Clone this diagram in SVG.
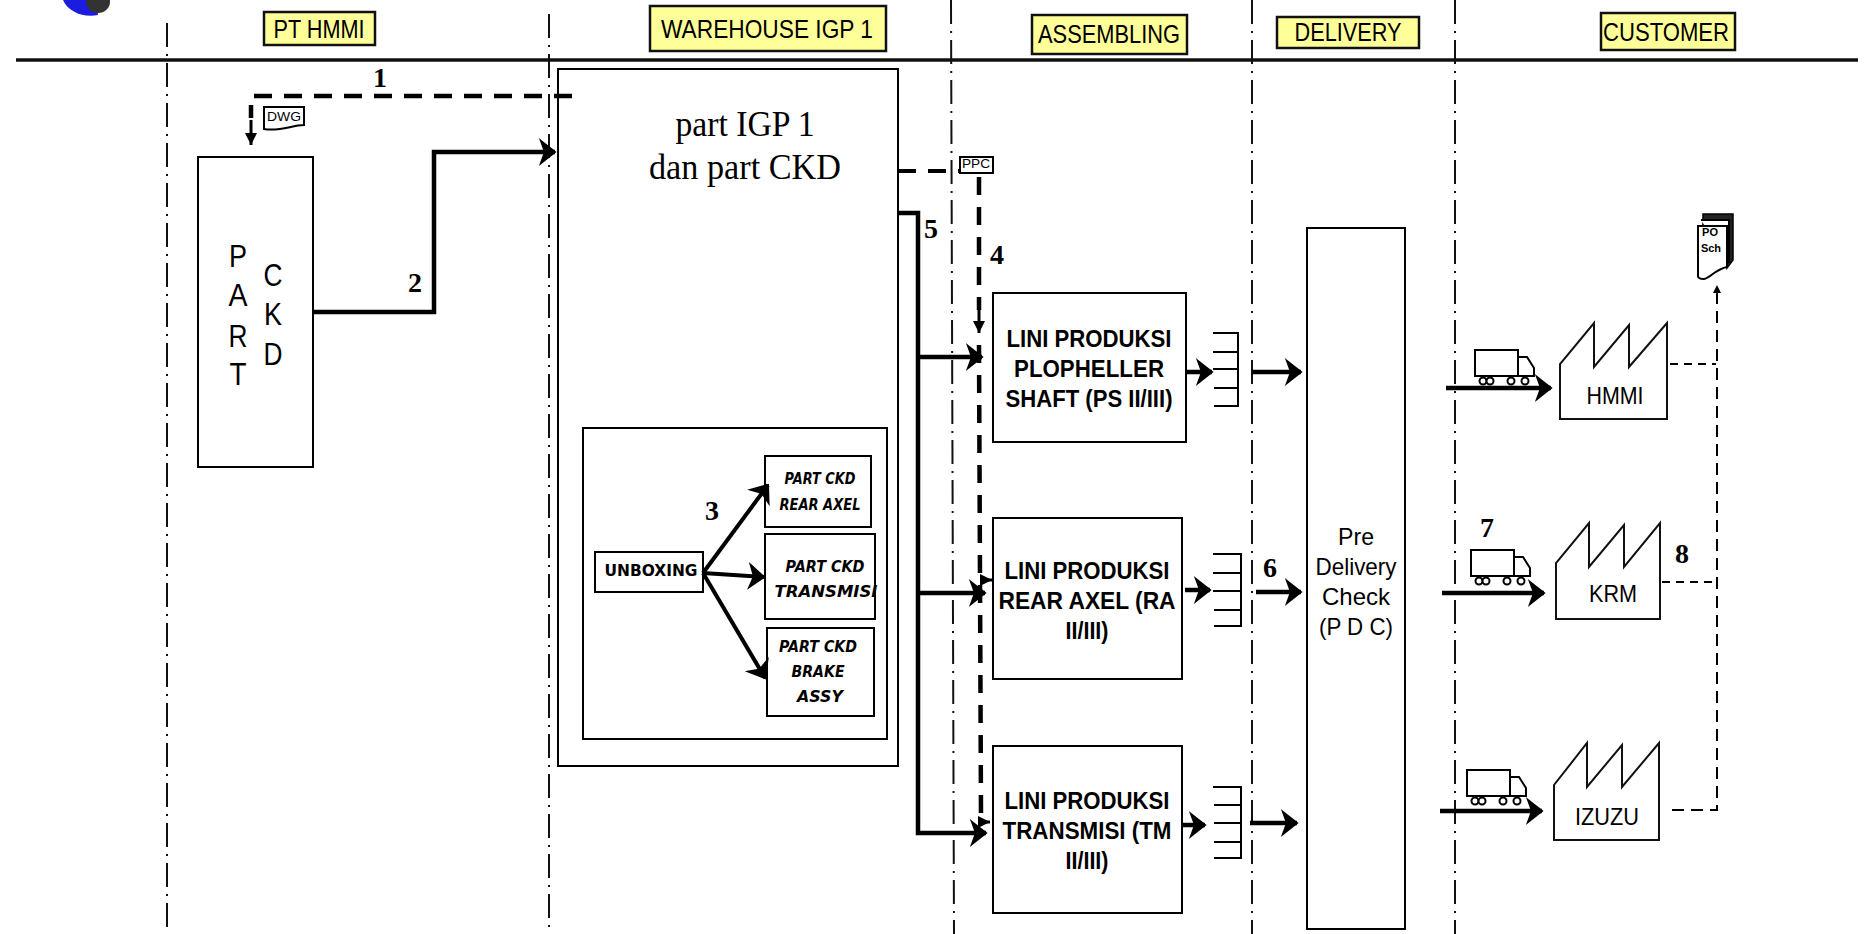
<svg xmlns="http://www.w3.org/2000/svg" width="1868" height="934" viewBox="0 0 1868 934">
<style>
text{font-family:"Liberation Sans",Arial,sans-serif;fill:#000}
.box{fill:#fff;stroke:#000;stroke-width:2}
.hdr{fill:#ffff99;stroke:#111;stroke-width:2.5}
.h{font-size:25px;text-anchor:middle}
.lane{fill:none;stroke:#111;stroke-width:2;stroke-dasharray:24 7 2 7}
.n{font-family:"Liberation Serif",serif;font-weight:bold;font-size:28px;text-anchor:middle}
.l{font-weight:bold;font-size:24px;text-anchor:middle}
.c{font-family:"DejaVu Sans",sans-serif;font-weight:bold;font-style:italic;font-size:15px;text-anchor:middle}
.p{font-size:31px;text-anchor:middle}
.f{font-size:24px;text-anchor:middle}
.s{fill:none;stroke:#000;stroke-width:4.5}
.m{fill:none;stroke:#000;stroke-width:3}
.d{fill:none;stroke:#000;stroke-width:4.5;stroke-dasharray:18 12}
.t{fill:none;stroke:#000;stroke-width:2;stroke-dasharray:8 6}
.fac{fill:#fff;stroke:#111;stroke-width:2}
.comb{fill:none;stroke:#000;stroke-width:2}
</style>
<defs>
<marker id="a" markerUnits="userSpaceOnUse" markerWidth="26" markerHeight="30" refX="20" refY="13" orient="auto" overflow="visible"><path d="M6,2 L20,13 L6,24 L10,13 Z" fill="#000" stroke="#000" stroke-width="2"/></marker>
<marker id="b" markerUnits="userSpaceOnUse" markerWidth="16" markerHeight="16" refX="14" refY="7" orient="auto" overflow="visible"><path d="M2,1 L14,7 L2,13 Z" fill="#000"/></marker>
<marker id="e" markerUnits="userSpaceOnUse" markerWidth="10" markerHeight="10" refX="8" refY="4" orient="auto" overflow="visible"><path d="M0,0 L8,4 L0,8 Z" fill="#000"/></marker>
<g id="truck" fill="#fff" stroke="#000" stroke-width="2">
<rect x="0" y="0" width="43" height="26"/>
<path d="M43,7 H52 L59,18 V26 H43 Z"/>
<circle cx="8" cy="31" r="3.5"/><circle cx="15" cy="31" r="3.5"/><circle cx="36" cy="31" r="3.5"/><circle cx="50" cy="31" r="3.5"/>
</g>
</defs>
<rect width="1868" height="934" fill="#fff"/>

<g id="logo">
<path d="M63,0 C68,12 84,18 98,15 L96,0 Z" fill="#1c1ce0"/>
<ellipse cx="98" cy="2" rx="12" ry="11" fill="#333"/>
</g>

<g id="lanes">
<path class="lane" d="M167,23 V934"/>
<path class="lane" d="M549,14 V934"/>
<path class="lane" d="M951,0 L954,934" stroke="#444"/>
<path class="lane" d="M1252,0 V934"/>
<path class="lane" d="M1455,0 V934"/>
<path d="M16,60 H1858" stroke="#111" stroke-width="3.5" fill="none"/>
</g>

<g id="header-pt-hmmi"><rect class="hdr" x="264" y="12" width="111" height="33"/><text class="h" x="319" y="38" textLength="91" lengthAdjust="spacingAndGlyphs">PT HMMI</text></g>
<g id="header-warehouse"><rect class="hdr" x="650" y="6" width="236" height="45"/><text class="h" x="767" y="38" textLength="212" lengthAdjust="spacingAndGlyphs">WAREHOUSE IGP 1</text></g>
<g id="header-assembling"><rect class="hdr" x="1032" y="15" width="155" height="39"/><text class="h" x="1109" y="43" textLength="142" lengthAdjust="spacingAndGlyphs">ASSEMBLING</text></g>
<g id="header-delivery"><rect class="hdr" x="1277" y="17" width="142" height="31"/><text class="h" x="1348" y="41" textLength="107" lengthAdjust="spacingAndGlyphs">DELIVERY</text></g>
<g id="header-customer"><rect class="hdr" x="1601" y="13" width="134" height="37"/><text class="h" x="1666" y="41" textLength="126" lengthAdjust="spacingAndGlyphs">CUSTOMER</text></g>

<g id="part-ckd">
<rect class="box" x="198" y="157" width="115" height="310"/>
<text class="p" x="238" y="267" textLength="18" lengthAdjust="spacingAndGlyphs">P</text><text class="p" x="238" y="306" textLength="19" lengthAdjust="spacingAndGlyphs">A</text><text class="p" x="238" y="347" textLength="19" lengthAdjust="spacingAndGlyphs">R</text><text class="p" x="238" y="385" textLength="17" lengthAdjust="spacingAndGlyphs">T</text>
<text class="p" x="273" y="286" textLength="19" lengthAdjust="spacingAndGlyphs">C</text><text class="p" x="273" y="325" textLength="18" lengthAdjust="spacingAndGlyphs">K</text><text class="p" x="273" y="365" textLength="19" lengthAdjust="spacingAndGlyphs">D</text>
</g>

<g id="warehouse">
<rect class="box" x="558" y="69" width="340" height="697"/>
<text x="745" y="136" font-size="36" text-anchor="middle" textLength="139" lengthAdjust="spacingAndGlyphs" style="font-family:'Liberation Serif',serif">part IGP 1</text>
<text x="745" y="179" font-size="36" text-anchor="middle" textLength="192" lengthAdjust="spacingAndGlyphs" style="font-family:'Liberation Serif',serif">dan part CKD</text>
</g>
<g id="unboxing-area"><rect class="box" x="583" y="428" width="304" height="311"/></g>
<g id="unboxing"><rect class="box" x="595" y="552" width="108" height="40"/><text class="c" x="651" y="576" textLength="93" lengthAdjust="spacingAndGlyphs" style="font-style:normal;font-size:16px">UNBOXING</text></g>
<g id="part-rear-axel"><rect class="box" x="765" y="456" width="106" height="71"/><text class="c" x="820" y="484" textLength="71" lengthAdjust="spacingAndGlyphs">PART  CKD</text><text class="c" x="820" y="510" textLength="81" lengthAdjust="spacingAndGlyphs">REAR  AXEL</text></g>
<g id="part-transmisi"><rect class="box" x="765" y="534" width="110" height="85"/><text class="c" x="825" y="572" textLength="79" lengthAdjust="spacingAndGlyphs" style="font-size:16px">PART CKD</text><text class="c" x="826" y="597" textLength="103" lengthAdjust="spacingAndGlyphs" style="font-size:16px">TRANSMISI</text></g>
<g id="part-brake"><rect class="box" x="767" y="628" width="107" height="88"/><text class="c" x="818" y="652" textLength="78" lengthAdjust="spacingAndGlyphs" style="font-size:16px">PART CKD</text><text class="c" x="818" y="677" textLength="53" lengthAdjust="spacingAndGlyphs" style="font-size:16px">BRAKE</text><text class="c" x="820" y="702" textLength="46" lengthAdjust="spacingAndGlyphs" style="font-size:16px">ASSY</text></g>

<g id="lini-ps"><rect class="box" x="993" y="293" width="193" height="149"/>
<text class="l" x="1089" y="347" textLength="165" lengthAdjust="spacingAndGlyphs">LINI PRODUKSI</text><text class="l" x="1089" y="377" textLength="150" lengthAdjust="spacingAndGlyphs">PLOPHELLER</text><text class="l" x="1089" y="407" textLength="167" lengthAdjust="spacingAndGlyphs">SHAFT (PS II/III)</text></g>
<g id="lini-ra"><rect class="box" x="993" y="518" width="189" height="161"/>
<text class="l" x="1087" y="579" textLength="165" lengthAdjust="spacingAndGlyphs">LINI PRODUKSI</text><text class="l" x="1087" y="609" textLength="177" lengthAdjust="spacingAndGlyphs">REAR AXEL  (RA</text><text class="l" x="1087" y="639" textLength="43" lengthAdjust="spacingAndGlyphs">II/III)</text></g>
<g id="lini-tm"><rect class="box" x="993" y="746" width="189" height="167"/>
<text class="l" x="1087" y="809" textLength="165" lengthAdjust="spacingAndGlyphs">LINI PRODUKSI</text><text class="l" x="1087" y="839" textLength="169" lengthAdjust="spacingAndGlyphs">TRANSMISI (TM</text><text class="l" x="1087" y="869" textLength="43" lengthAdjust="spacingAndGlyphs">II/III)</text></g>

<g id="stock-ps"><path class="comb" d="M1213,333 H1238 V406 H1214 M1213,352 H1238 M1213,369 H1238 M1214,388 H1238"/></g>
<g id="stock-ra"><path class="comb" d="M1213,554 H1241 V626 H1214 M1213,573 H1241 M1213,591 H1241 M1214,610 H1241"/></g>
<g id="stock-tm"><path class="comb" d="M1213,787 H1241 V858 H1214 M1214,805 H1241 M1214,823 H1241 M1214,842 H1241"/></g>

<g id="pdc"><rect class="box" x="1307" y="228" width="98" height="701"/>
<text class="f" x="1356" y="545" textLength="36" lengthAdjust="spacingAndGlyphs">Pre</text><text class="f" x="1356" y="575" textLength="81" lengthAdjust="spacingAndGlyphs">Delivery</text><text class="f" x="1356" y="605" textLength="68" lengthAdjust="spacingAndGlyphs">Check</text><text class="f" x="1356" y="635" textLength="74" lengthAdjust="spacingAndGlyphs">(P D C)</text></g>

<g id="dwg"><path d="M264,107 H304 V125 C292,125 280,132 264,129 Z" fill="#fff" stroke="#000" stroke-width="2"/><text x="284" y="121" font-size="13" text-anchor="middle" textLength="34" lengthAdjust="spacingAndGlyphs">DWG</text></g>
<g id="ppc"><rect x="960" y="157" width="33" height="16" fill="#fff" stroke="#000" stroke-width="2"/><text x="976" y="168" font-size="12" text-anchor="middle" textLength="28" lengthAdjust="spacingAndGlyphs" fill="#123">PPC</text></g>
<g id="po-sch">
<path d="M1703,214 H1733 V260 L1727,268 V226 H1703 Z" fill="#222" stroke="#000" stroke-width="1.5"/>
<path d="M1701,220 H1729 V262 H1727" fill="#fff" stroke="#000" stroke-width="2"/>
<path d="M1698,226 H1727 V267 C1716,269 1710,278 1704,279 C1701,279 1698,278 1698,276 Z" fill="#fff" stroke="#000" stroke-width="2"/>
<text x="1710" y="236" font-size="11" font-weight="bold" text-anchor="middle">PO</text><text x="1711" y="252" font-size="11" font-weight="bold" text-anchor="middle">Sch</text>
</g>

<g id="factory-hmmi"><path class="fac" d="M1560,419 V364 L1594,323 V367 L1629,325 V367 L1667,323 V419 Z"/><text class="f" x="1615" y="404" textLength="57" lengthAdjust="spacingAndGlyphs">HMMI</text></g>
<g id="factory-krm"><path class="fac" d="M1556,619 V563 L1589,523 V567 L1624,525 V567 L1660,523 V619 Z"/><text class="f" x="1613" y="602" textLength="48" lengthAdjust="spacingAndGlyphs">KRM</text></g>
<g id="factory-izuzu"><path class="fac" d="M1554,840 V785 L1587,743 V787 L1622,745 V787 L1659,743 V840 Z"/><text class="f" x="1607" y="825" textLength="64" lengthAdjust="spacingAndGlyphs">IZUZU</text></g>

<g id="truck-1"><use href="#truck" x="1475" y="350"/></g>
<g id="truck-2"><use href="#truck" x="1471" y="550"/></g>
<g id="truck-3"><use href="#truck" x="1467" y="770"/></g>

<g id="connectors">
<path class="d" d="M572,96 H251 V118" stroke-dasharray="15 9"/>
<path class="m" d="M251,120 V145" marker-end="url(#b)"/>
<path class="s" d="M313,312 H434 V152 H555" marker-end="url(#a)"/>
<path class="m" style="stroke-width:4" d="M703,573 L768,485" marker-end="url(#a)"/>
<path class="m" style="stroke-width:4" d="M703,573 L764,577" marker-end="url(#a)"/>
<path class="m" style="stroke-width:4" d="M703,573 L765,678" marker-end="url(#a)"/>
<path class="d" style="stroke-width:4" d="M898,171 H960"/>
<path class="d" d="M979,177 V310"/>
<path class="m" d="M979,310 V333" marker-end="url(#b)"/>
<path class="d" d="M979,345 L981,815"/>
<path class="s" style="stroke-width:3" d="M980,580 H992" marker-end="url(#b)"/>
<path class="s" style="stroke-width:3" d="M980,822 H990" marker-end="url(#b)"/>
<path class="s" d="M897,213 H918 V833 H986" marker-end="url(#a)"/>
<path class="s" d="M918,357 H982" marker-end="url(#a)"/>
<path class="s" d="M918,593 H985" marker-end="url(#a)"/>
<path class="s" d="M1186,372 H1212" marker-end="url(#a)"/>
<path class="s" d="M1185,590 H1210" marker-end="url(#a)"/>
<path class="s" d="M1182,825 H1205" marker-end="url(#a)"/>
<path class="s" d="M1252,372 H1301" marker-end="url(#a)"/>
<path class="s" d="M1256,592 H1301" marker-end="url(#a)"/>
<path class="s" d="M1250,823 H1297" marker-end="url(#a)"/>
<path class="s" d="M1446,388 H1551" marker-end="url(#a)"/>
<path class="s" d="M1442,593 H1544" marker-end="url(#a)"/>
<path class="s" d="M1440,811 H1542" marker-end="url(#a)"/>
<path class="t" d="M1670,364 H1716"/>
<path class="t" d="M1662,582 H1717"/>
<path class="t" d="M1672,810 H1717 V285" marker-end="url(#e)" style="stroke-dasharray:12 7"/>
</g>

<g id="labels">
<text class="n" x="380" y="87">1</text>
<text class="n" x="415" y="292">2</text>
<text class="n" x="712" y="520">3</text>
<text class="n" x="997" y="264">4</text>
<text class="n" x="931" y="238">5</text>
<text class="n" x="1270" y="577">6</text>
<text class="n" x="1487" y="537">7</text>
<text class="n" x="1682" y="563">8</text>
</g>
</svg>
